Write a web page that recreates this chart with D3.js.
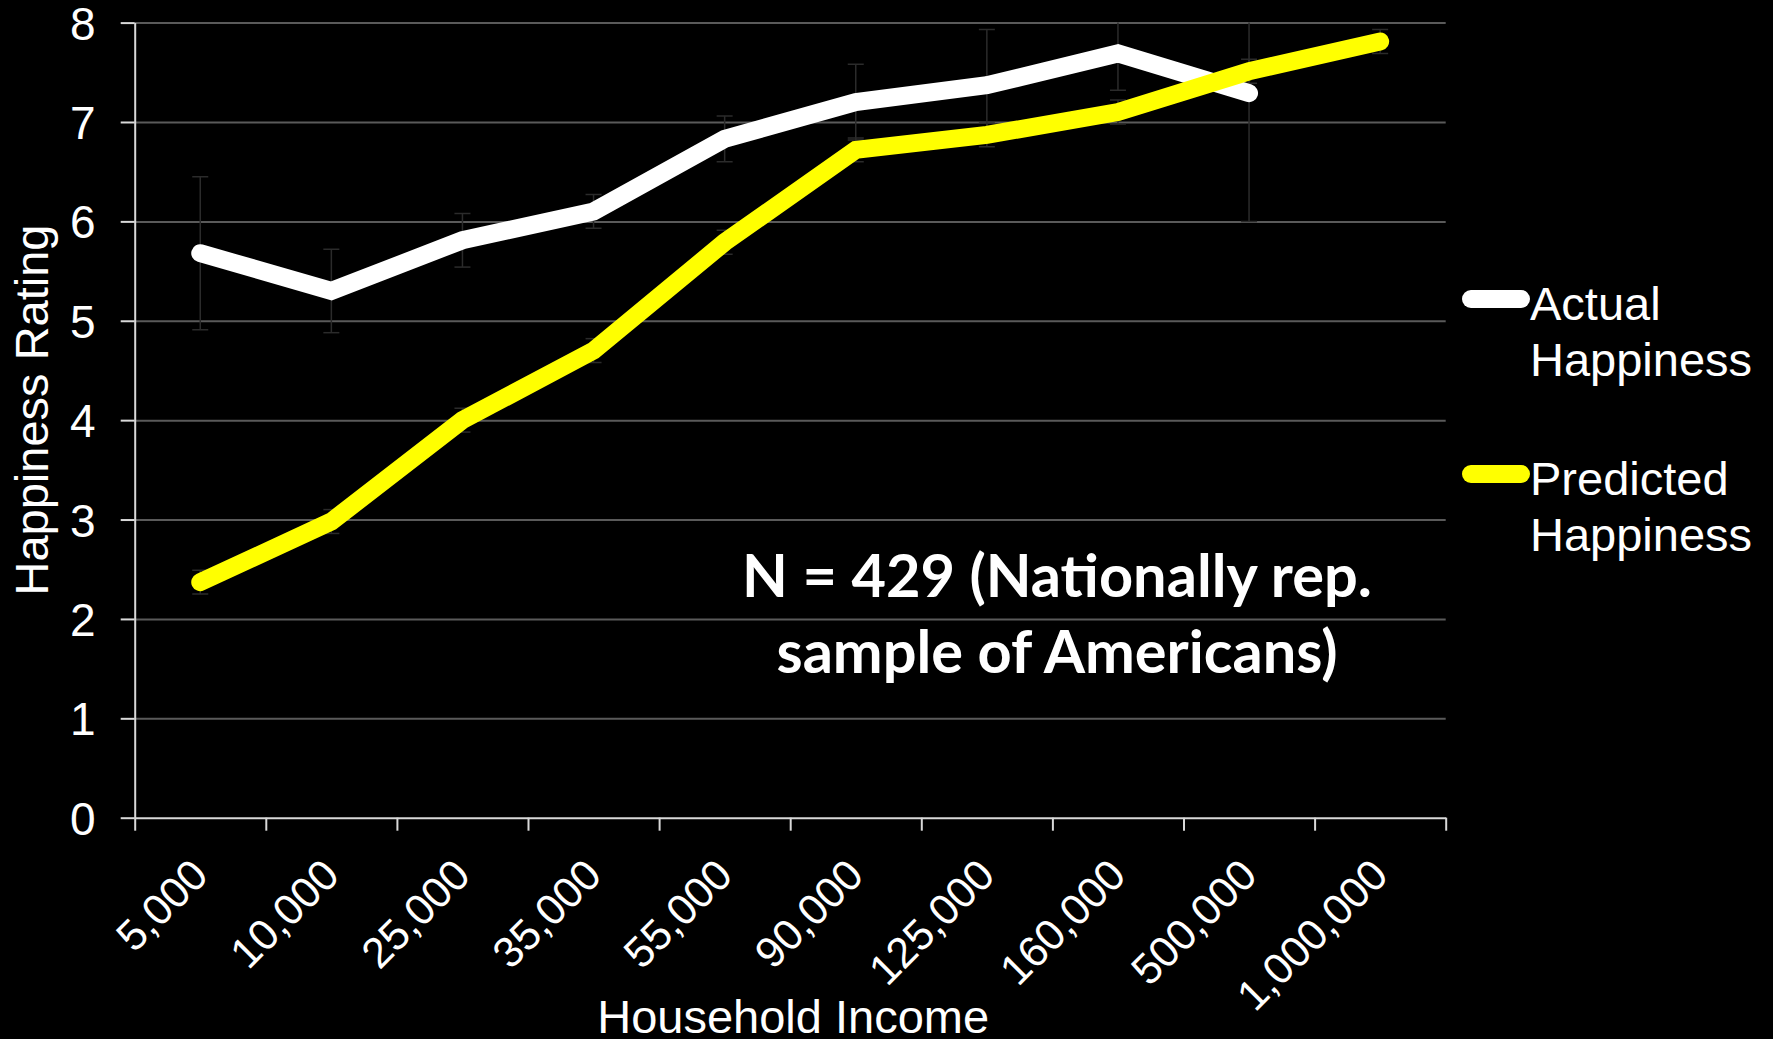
<!DOCTYPE html>
<html lang="en">
<head>
  <meta charset="UTF-8">
  <title>Actual vs Predicted Happiness by Household Income</title>
  <script src="https://d3js.org/d3.v7.min.js"></script>
  <style>
    body { margin: 0; background: #000; }
    svg { display: block; }
  </style>
</head>
<body>
  <svg width="1773" height="1039"></svg>

  <script>
    // Data
    const categories = ["5,000", "10,000", "25,000", "35,000", "55,000", "90,000", "125,000", "160,000", "500,000", "1,000,000"];
    const actual = [5.68, 5.3, 5.81, 6.1, 6.83, 7.2, 7.37, 7.69, 7.29, null];
    const actualErr = [0.77, 0.42, 0.27, 0.17, 0.23, 0.38, 0.56, 0.37, 1.29, null];
    const predicted = [2.37, 2.98, 4.0, 4.7, 5.79, 6.72, 6.87, 7.1, 7.51, 7.81];
    const predictedErr = [0.12, 0.12, 0.12, 0.12, 0.12, 0.12, 0.12, 0.12, 0.12, 0.12];
    const yTicks = [0, 1, 2, 3, 4, 5, 6, 7, 8];
    const seriesNames = ["Actual\nHappiness", "Predicted\nHappiness"];

    const margin = { top: 22.6, right: 327.3, bottom: 221.3, left: 134.7 };
    const width = 1773 - margin.left - margin.right;
    const height = 1039 - margin.top - margin.bottom;

    const svg = d3.select("svg")
      .style("font-family", "'Liberation Sans', Arial, sans-serif");

    svg.append("rect")
      .attr("width", 1773).attr("height", 1039).attr("fill", "#000");

    const g = svg.append("g")
      .attr("transform", "translate(" + margin.left + "," + margin.top + ")");

    // scales
    const x = d3.scaleBand().domain(categories).range([0, width]).padding(0);
    const xEdge = d3.scaleLinear().domain([0, categories.length]).range([0, width]);
    const y = d3.scaleLinear().domain([0, 8]).range([height, 0]);
    const cx = i => x(categories[i]) + x.bandwidth() / 2;

    // gridlines
    g.append("g")
      .call(d3.axisLeft(y).tickValues(yTicks.slice(1)).tickSize(-width).tickFormat(""))
      .call(s => s.select(".domain").remove())
      .selectAll("line")
      .attr("stroke", "#5a5a5a")
      .attr("stroke-width", 2);

    // y axis
    const yAxis = g.append("g")
      .call(d3.axisLeft(y).tickValues(yTicks).tickSize(14).tickPadding(10).tickSizeOuter(0));
    yAxis.select(".domain").attr("stroke", "#d9d9d9").attr("stroke-width", 2);
    yAxis.selectAll(".tick line").attr("stroke", "#d9d9d9").attr("stroke-width", 2);
    yAxis.selectAll(".tick text")
      .attr("fill", "#fff")
      .style("font-size", "46px")
      .attr("x", -39)
      .attr("dy", "0.36em");

    // x axis: ticks at band edges
    const xAxis = g.append("g")
      .attr("transform", "translate(0," + height + ")")
      .call(d3.axisBottom(xEdge).tickValues(d3.range(categories.length + 1)).tickSize(13).tickFormat("").tickSizeOuter(0));
    xAxis.select(".domain").attr("stroke", "#d9d9d9").attr("stroke-width", 2);
    xAxis.selectAll(".tick line").attr("stroke", "#d9d9d9").attr("stroke-width", 2);

    // x labels at band centres, rotated
    const xLab = g.append("g")
      .attr("transform", "translate(0," + height + ")")
      .call(d3.axisBottom(x).tickSize(0).tickPadding(0));
    xLab.select(".domain").remove();
    xLab.selectAll(".tick text")
      .attr("fill", "#fff")
      .style("font-size", "43px")
      .attr("text-anchor", "end")
      .attr("x", 0).attr("y", 0).attr("dy", 0)
      .attr("transform", "translate(10,60) rotate(-45)");

    // error bars (clipped to plot area)
    svg.append("defs").append("clipPath").attr("id", "plot")
      .append("rect").attr("width", width).attr("height", height);
    const eb = g.append("g").attr("clip-path", "url(#plot)");
    function errorBars(vals, errs) {
      vals.forEach((v, i) => {
        if (v == null) return;
        const e = errs[i];
        const bar = eb.append("g").attr("stroke", "#2b2b2b").attr("stroke-width", 1.5);
        bar.append("line").attr("x1", cx(i)).attr("x2", cx(i)).attr("y1", y(v - e)).attr("y2", y(v + e));
        bar.append("line").attr("x1", cx(i) - 8).attr("x2", cx(i) + 8).attr("y1", y(v - e)).attr("y2", y(v - e));
        bar.append("line").attr("x1", cx(i) - 8).attr("x2", cx(i) + 8).attr("y1", y(v + e)).attr("y2", y(v + e));
      });
    }
    errorBars(actual, actualErr);
    errorBars(predicted, predictedErr);

    // lines
    const line = d3.line()
      .defined(d => d.v != null)
      .x(d => cx(d.i))
      .y(d => y(d.v));

    g.append("path")
      .datum(actual.map((v, i) => ({ i, v })))
      .attr("d", line)
      .attr("fill", "none")
      .attr("stroke", "#ffffff")
      .attr("stroke-width", 18)
      .attr("stroke-linecap", "round")
      .attr("stroke-linejoin", "miter");

    g.append("path")
      .datum(predicted.map((v, i) => ({ i, v })))
      .attr("d", line)
      .attr("fill", "none")
      .attr("stroke", "#ffff00")
      .attr("stroke-width", 18)
      .attr("stroke-linecap", "round")
      .attr("stroke-linejoin", "miter");

    // axis titles
    svg.append("text")
      .attr("transform", "translate(48,410) rotate(-90)")
      .attr("text-anchor", "middle")
      .attr("fill", "#fff")
      .style("font-size", "47px")
      .text("Happiness Rating");

    svg.append("text")
      .attr("x", margin.left + width / 2 + 3)
      .attr("y", 1033)
      .attr("text-anchor", "middle")
      .attr("fill", "#fff")
      .style("font-size", "47px")
      .text("Household Income");

    // legend
    const legendColors = ["#ffffff", "#ffff00"];
    const legendY = [299, 474];
    seriesNames.forEach((name, k) => {
      svg.append("line")
        .attr("x1", 1471).attr("x2", 1521)
        .attr("y1", legendY[k]).attr("y2", legendY[k])
        .attr("stroke", legendColors[k])
        .attr("stroke-width", 18)
        .attr("stroke-linecap", "round");
      const t = svg.append("text")
        .attr("fill", "#fff")
        .style("font-size", "47px");
      name.split("\n").forEach((part, j) => {
        t.append("tspan")
          .attr("x", 1530)
          .attr("y", legendY[k] + 21 + j * 56)
          .text(part);
      });
    });

    // annotation
    const note = svg.append("g")
      .style("font-family", "Lato, 'Open Sans', sans-serif")
      .style("font-weight", "bold")
      .attr("fill", "#fff")
      .attr("text-anchor", "middle");
    const n1 = note.append("text").attr("x", 1057).attr("y", 597)
      .style("font-size", "56px").text("N = 429 (Nationally rep.");
    const n2 = note.append("text").attr("x", 1057).attr("y", 673)
      .style("font-size", "56px").text("sample of Americans)");
    const fs = 56 * 630 / n1.node().getComputedTextLength();
    n1.style("font-size", fs + "px");
    n2.style("font-size", fs + "px");
  </script>
</body>
</html>
